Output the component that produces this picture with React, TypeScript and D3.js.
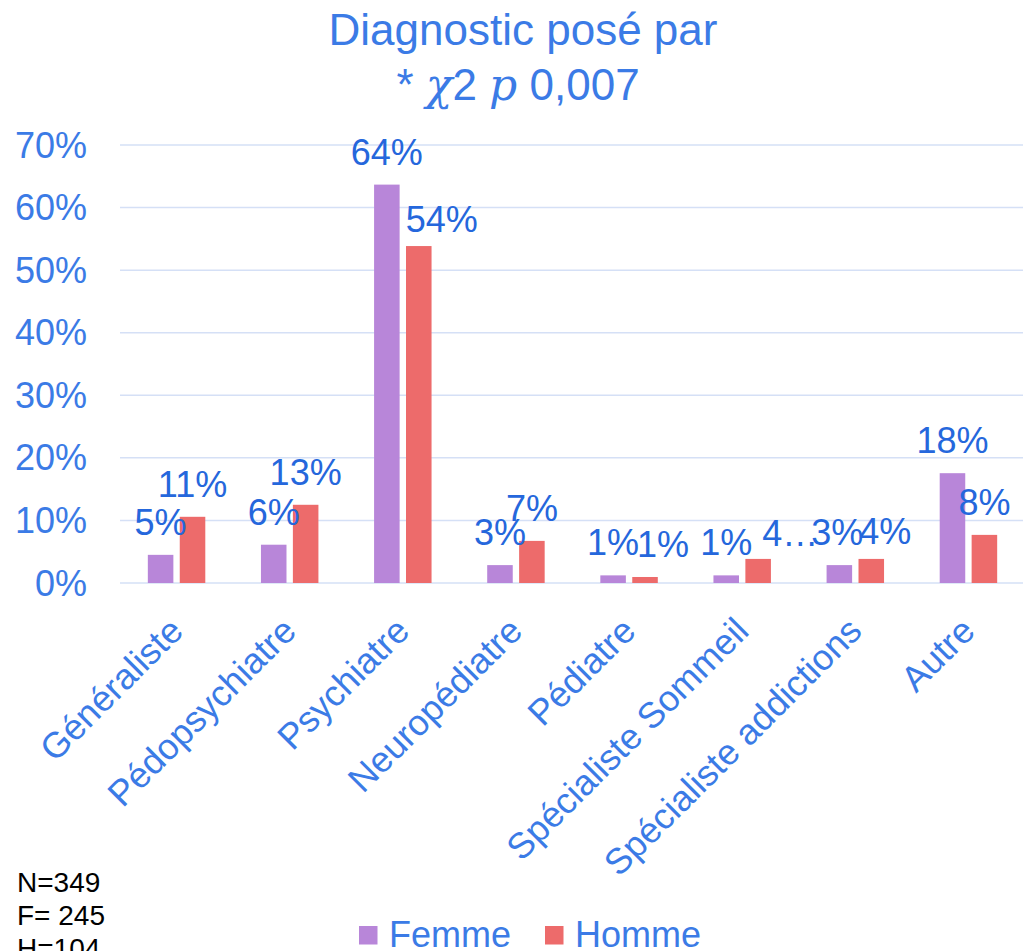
import React from "react";
import * as d3 from "d3";

const categories = [
  "Généraliste",
  "Pédopsychiatre",
  "Psychiatre",
  "Neuropédiatre",
  "Pédiatre",
  "Spécialiste Sommeil",
  "Spécialiste addictions",
  "Autre",
];
const seriesNames = ["Femme", "Homme"];
const femme = [4.5, 6.12, 63.67, 2.86, 1.22, 1.22, 2.86, 17.55];
const homme = [10.58, 12.5, 53.85, 6.73, 0.96, 3.85, 3.85, 7.69];
const yTicks = [0, 10, 20, 30, 40, 50, 60, 70];
const titleLine1 = "Diagnostic posé par";
const notes = ["N=349", "F= 245", "H=104"];

// label placement tweaks (as in the source's data labels)
const labelTweaks: Record<string, { dx?: number; dy?: number; text?: string }> = {
  "Homme-2": { dx: 23, dy: 6 },
  "Homme-4": { dx: 18 },
  "Homme-5": { dx: 32, dy: 7, text: "4…" },
  "Femme-6": { dx: -2 },
  "Homme-6": { dx: 14, dy: 5 },
};

const W = 1023;
const H = 951;
const FONT = "'Liberation Sans', Arial, Helvetica, sans-serif";
const BLUE = "#3b7be6";
const LABEL_BLUE = "#2567dc";
const GRID = "#d5e0f6";
const COLORS: Record<string, string> = { Femme: "#b886d9", Homme: "#ed6b6b" };

export default function App() {
  const x0 = d3
    .scaleBand<string>()
    .domain(categories)
    .range([120, 1025])
    .paddingInner(0.492)
    .paddingOuter(0.246);
  const x1 = d3
    .scaleBand<string>()
    .domain(seriesNames)
    .range([0, x0.bandwidth()])
    .paddingInner(0.2);
  const y = d3.scaleLinear().domain([0, 70]).range([583, 145]);
  const values: Record<string, number[]> = { Femme: femme, Homme: homme };

  return (
    <svg
      width={W}
      height={H}
      style={{ position: "absolute", left: 0, top: 0, background: "#fff" }}
      fontFamily={FONT}
    >
      {/* title */}
      <text x={523} y={45} textAnchor="middle" fontSize={44} fill={BLUE}>
        {titleLine1}
      </text>
      <text x={518} y={100} textAnchor="middle" fontSize={44} fill={BLUE}>
        <tspan>* </tspan>
        <tspan fontFamily="'DejaVu Serif', serif" fontStyle="italic">χ</tspan>
        <tspan>2 </tspan>
        <tspan fontFamily="'DejaVu Serif', serif" fontStyle="italic">p</tspan>
        <tspan> 0,007</tspan>
      </text>

      {/* gridlines + y ticks */}
      {yTicks.map((t) => (
        <g key={t}>
          <line x1={120} x2={W} y1={y(t)} y2={y(t)} stroke={GRID} strokeWidth={1.5} />
          <text x={87} y={y(t)} dy={12.5} textAnchor="end" fontSize={36} fill={BLUE}>
            {t}%
          </text>
        </g>
      ))}

      {/* bars */}
      {categories.map((c, i) => (
        <g key={c} transform={`translate(${x0(c)},0)`}>
          {seriesNames.map((s) => {
            const v = values[s][i];
            return (
              <rect
                key={s}
                x={x1(s)}
                y={y(v)}
                width={x1.bandwidth()}
                height={y(0) - y(v)}
                fill={COLORS[s]}
              />
            );
          })}
        </g>
      ))}

      {/* data labels */}
      {categories.map((c, i) =>
        seriesNames.map((s) => {
          const v = values[s][i];
          const tw = labelTweaks[`${s}-${i}`] || {};
          const cx = (x0(c) as number) + (x1(s) as number) + x1.bandwidth() / 2;
          return (
            <text
              key={`${s}-${c}`}
              x={cx + (tw.dx || 0)}
              y={y(v) - 20 + (tw.dy || 0)}
              textAnchor="middle"
              fontSize={36}
              fill={LABEL_BLUE}
            >
              {tw.text ?? `${Math.round(v)}%`}
            </text>
          );
        })
      )}

      {/* category labels */}
      {categories.map((c) => {
        const cx = (x0(c) as number) + x0.bandwidth() / 2;
        return (
          <text
            key={c}
            transform={`translate(${cx + 8.5},${633}) rotate(-45)`}
            textAnchor="end"
            fontSize={36}
            fill={BLUE}
          >
            {c}
          </text>
        );
      })}

      {/* notes */}
      {notes.map((n, i) => (
        <text key={n} x={17} y={891.5 + i * 33} fontSize={28} fill="#000">
          {n}
        </text>
      ))}

      {/* legend */}
      {seriesNames.map((s, i) => {
        const lx = [359, 545][i];
        return (
          <g key={s}>
            <rect x={lx} y={926} width={18.5} height={18.5} fill={COLORS[s]} />
            <text x={lx + 30} y={946.5} fontSize={36} fill={BLUE}>
              {s}
            </text>
          </g>
        );
      })}
    </svg>
  );
}
